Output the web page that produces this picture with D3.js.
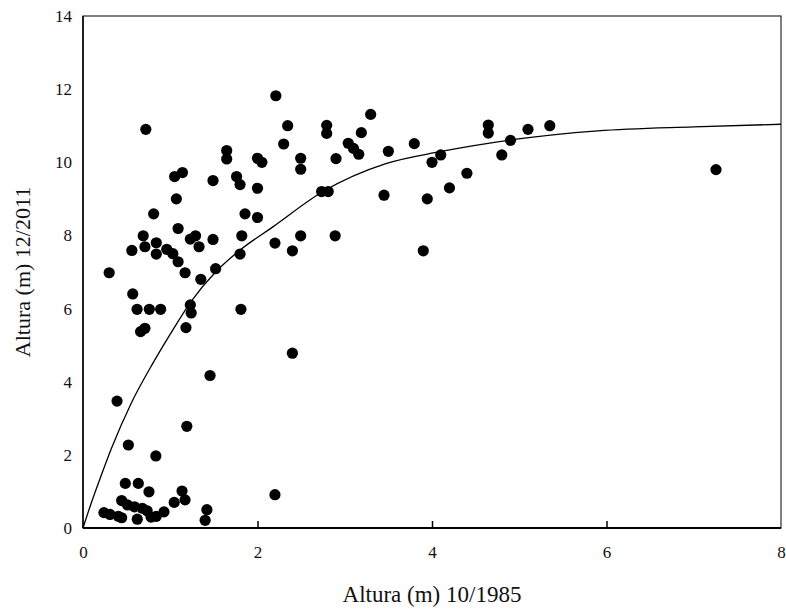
<!DOCTYPE html>
<html>
<head>
<meta charset="utf-8">
<script src="https://cdn.jsdelivr.net/npm/d3@7"></script>
<style>
  body { margin: 0; background: #fff; }
  svg { display: block; }
  text { font-family: "Liberation Serif", "Times New Roman", serif; fill: #111; }
</style>
</head>
<body>
<svg id="chart" width="786" height="610"></svg>
<script>
// Altura (m) 10/1985
const height1985 = [
  0.72, 1.05, 1.14, 1.07, 0.81, 1.09, 0.69, 0.71, 0.56, 0.84,
  0.84, 0.96, 1.03, 1.09, 1.23, 1.29, 1.33, 1.17, 0.30, 1.35,
  0.57, 0.62, 0.76, 0.89, 0.66, 0.71, 1.23, 1.24, 1.18, 0.39,
  1.19, 0.52, 0.835, 0.485, 0.634, 0.756, 1.135, 1.17, 1.045, 0.443,
  0.51, 0.59, 0.68, 0.735, 0.928, 0.24, 0.31, 0.405, 0.443, 0.622,
  0.78, 0.84, 1.42, 1.40, 2.20, 1.456, 2.40, 1.81, 1.52, 1.49,
  1.49, 1.647, 1.647, 1.76, 1.80, 2.00, 2.05, 2.00, 1.857, 2.00,
  1.82, 1.80, 2.20, 2.40, 2.495, 2.89, 2.21, 2.346, 2.30, 2.495,
  2.495, 2.793, 2.793, 2.90, 2.735, 2.81, 3.04, 3.10, 3.16, 3.19,
  3.297, 3.50, 3.797, 4.00, 4.10, 4.40, 4.20, 3.946, 3.45, 3.90,
  4.645, 4.645, 4.90, 4.80, 5.10, 5.35, 7.255
];
// Altura (m) 12/2011
const height2011 = [
  10.90, 9.61, 9.72, 9.00, 8.59, 8.19, 7.99, 7.69, 7.59, 7.80,
  7.49, 7.62, 7.50, 7.28, 7.90, 7.99, 7.69, 6.98, 6.98, 6.80,
  6.40, 5.98, 5.98, 5.98, 5.37, 5.46, 6.10, 5.88, 5.48, 3.47,
  2.78, 2.27, 1.97, 1.22, 1.22, 0.99, 1.01, 0.77, 0.70, 0.75,
  0.63, 0.58, 0.54, 0.47, 0.44, 0.42, 0.37, 0.32, 0.28, 0.24,
  0.30, 0.32, 0.50, 0.21, 0.91, 4.17, 4.78, 5.98, 7.09, 7.89,
  9.50, 10.32, 10.09, 9.61, 9.39, 10.11, 10.00, 9.29, 8.59, 8.49,
  7.99, 7.49, 7.79, 7.58, 7.99, 7.99, 11.82, 11.00, 10.50, 10.11,
  9.81, 11.01, 10.79, 10.10, 9.20, 9.20, 10.52, 10.38, 10.22, 10.81,
  11.31, 10.30, 10.51, 10.00, 10.20, 9.70, 9.30, 9.00, 9.10, 7.58,
  11.02, 10.80, 10.60, 10.20, 10.90, 11.00, 9.80
];
// fitted curve
const curveX = [0, 0.1, 0.2, 0.33, 0.55, 0.8, 1.0, 1.24, 1.52, 1.8, 2.18, 2.75, 3.48, 4.09, 4.9, 5.9, 7.0, 8.0];
const curveY = [0, 0.72, 1.38, 2.2, 3.4, 4.5, 5.3, 6.2, 7.0, 7.6, 8.24, 9.2, 9.97, 10.29, 10.61, 10.86, 10.97, 11.04];

const xTicks = [0, 2, 4, 6, 8];
const yTicks = [0, 2, 4, 6, 8, 10, 12, 14];
const xTitle = "Altura (m) 10/1985";
const yTitle = "Altura (m) 12/2011";

const serif = '"Liberation Serif", "Times New Roman", serif';
const svg = d3.select("#chart");
const x = d3.scaleLinear().domain([0, 8]).range([83, 781]);
const y = d3.scaleLinear().domain([0, 14]).range([528, 16]);

// x axis (ticks inward)
const gx = svg.append("g").attr("transform", `translate(0,${y(0)})`)
  .call(d3.axisBottom(x).tickValues(xTicks).tickFormat(d3.format("d"))
    .tickSizeInner(-7).tickSizeOuter(0).tickPadding(18));
gx.attr("font-family", null).style("font-family", serif);
gx.select(".domain").remove();
gx.selectAll(".tick line").attr("stroke", "#000").attr("stroke-width", 1.5);
gx.selectAll(".tick text").style("font-family", serif).style("font-size", "17px").attr("fill", "#111");
gx.selectAll(".tick").filter(d => d === 0 || d === 8).select("line").remove();

// y axis
const gy = svg.append("g").attr("transform", `translate(${x(0)},0)`)
  .call(d3.axisLeft(y).tickValues(yTicks).tickFormat(d3.format("d"))
    .tickSize(0).tickPadding(11));
gy.attr("font-family", null).style("font-family", serif);
gy.select(".domain").remove();
gy.selectAll(".tick text").style("font-family", serif).style("font-size", "17px").attr("fill", "#111");

// frame
svg.append("rect")
  .attr("x", x(0)).attr("y", y(14))
  .attr("width", x(8) - x(0)).attr("height", y(0) - y(14))
  .attr("fill", "none").attr("stroke", "#000").attr("stroke-width", 1);
svg.append("line").attr("x1", x(0)).attr("x2", x(8)).attr("y1", y(0)).attr("y2", y(0))
  .attr("stroke", "#000").attr("stroke-width", 2);
svg.append("line").attr("x1", x(0)).attr("x2", x(0)).attr("y1", y(0)).attr("y2", y(14))
  .attr("stroke", "#000").attr("stroke-width", 1.5);

// curve
const curveData = curveX.map((d, i) => [d, curveY[i]]);
svg.append("path")
  .datum(curveData)
  .attr("fill", "none").attr("stroke", "#000").attr("stroke-width", 1.3)
  .attr("d", d3.line().x(d => x(d[0])).y(d => y(d[1])).curve(d3.curveMonotoneX));

// points
const pts = height1985.map((d, i) => [d, height2011[i]]);
svg.append("g").selectAll("circle").data(pts).join("circle")
  .attr("cx", d => x(d[0])).attr("cy", d => y(d[1])).attr("r", 5.6).attr("fill", "#000");

// titles
svg.append("text").attr("x", (x(0) + x(8)) / 2).attr("y", 602)
  .attr("text-anchor", "middle").style("font-size", "23px").text(xTitle);
svg.append("text").attr("transform", `translate(30,${(y(0) + y(14)) / 2}) rotate(-90)`)
  .attr("text-anchor", "middle").style("font-size", "22px").text(yTitle);
</script>
</body>
</html>
